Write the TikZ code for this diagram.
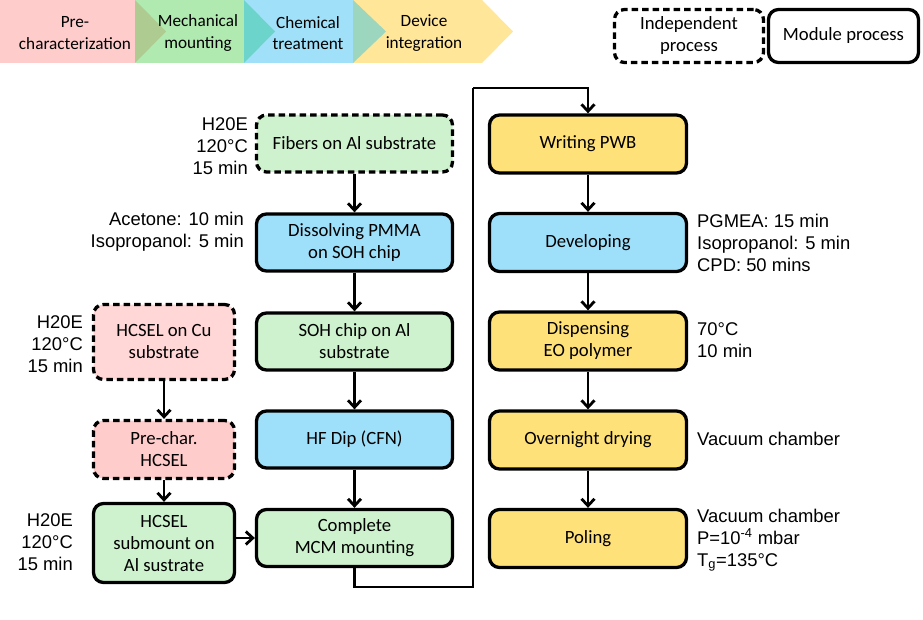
\documentclass[tikz,border=0pt]{standalone}
\usepackage{fontspec}
\setmainfont{Carlito}
\newfontfamily\boxfont{Carlito}
\newfontfamily\sidefont{Liberation Sans}
\usetikzlibrary{arrows.meta}
\definecolor{bpink}{HTML}{FFCCCC}
\definecolor{bgreen}{HTML}{B0EAB0}
\definecolor{bblue}{HTML}{A0E0F8}
\definecolor{byellow}{HTML}{FFE699}
\definecolor{ov1}{HTML}{AECB92}
\definecolor{ov2}{HTML}{6CD4CA}
\definecolor{ov3}{HTML}{9DD6BE}
\definecolor{fgreen}{HTML}{CDF2CD}
\definecolor{fblue}{HTML}{9EDFF9}
\definecolor{fyellow}{HTML}{FFE17A}
\definecolor{fpinkl}{HTML}{FFD7D7}
\definecolor{fpink}{HTML}{FFCCCC}
\tikzset{
  procbox/.style={draw=black, line width=3.3pt, rounded corners=10pt, align=center,
    font=\boxfont\fontsize{18.7}{22}\selectfont, inner sep=0pt},
  midbox/.style={procbox, minimum width=196pt, minimum height=57pt},
  rightbox/.style={procbox, minimum width=197pt, minimum height=58pt},
  leftbox/.style={procbox, minimum width=141pt},
  indep/.style={dash pattern=on 6.5pt off 4pt},
  sidetext/.style={font=\sidefont\fontsize{18.4}{22}\selectfont, inner sep=0pt},
  bantext/.style={font=\boxfont\fontsize{17.2}{21.5}\selectfont, align=center, inner sep=0pt},
  flow/.style={line width=2.8pt, -{Straight Barb[length=7pt,width=13pt,line width=2.8pt]}},
  link/.style={line width=2.4pt}
}
\begin{document}
\begin{tikzpicture}[x=1pt,y=-1pt]
\useasboundingbox (0,0) rectangle (923,620);
\fill[white] (0,0) rectangle (923,620);
% banner
\fill[bpink] (0,0) -- (135,0) -- (166,31.5) -- (135,63) -- (0,63) -- cycle;
\fill[bgreen] (135,0) -- (244,0) -- (275,31.5) -- (244,63) -- (135,63) -- cycle;
\fill[bblue] (244,0) -- (353,0) -- (386,31.5) -- (353,63) -- (244,63) -- cycle;
\fill[byellow] (353,0) -- (482,0) -- (513,31.5) -- (482,63) -- (353,63) -- cycle;
\fill[ov1] (135,0) -- (166,31.5) -- (135,63) -- cycle;
\fill[ov2] (244,0) -- (275,31.5) -- (244,63) -- cycle;
\fill[ov3] (353,0) -- (386,31.5) -- (353,63) -- cycle;
\node[bantext] (b1) at (75,33) {Pre-\\characterization};
\node[bantext] (b2) at (198,33) {Mechanical\\mounting};
\node[bantext] (b3) at (308,33) {Chemical\\treatment};
\node[bantext] (b4) at (424,33) {Device\\integration};
% legend
\node[procbox, indep, minimum width=149pt, minimum height=53pt] (lg1) at (689,36) {Independent\\process};
\node[procbox, minimum width=150pt, minimum height=53pt] (lg2) at (843.5,36) {Module process};
% middle column
\node[midbox, indep, fill=fgreen] (fib) at (354.5,143.5) {Fibers on Al substrate};
\node[midbox, fill=fblue] (dis) at (354.5,242.5) {Dissolving PMMA\\on SOH chip};
\node[midbox, fill=fgreen] (soh) at (354.5,341.5) {SOH chip on Al\\substrate};
\node[midbox, fill=fblue] (hf) at (354.5,439.5) {HF Dip (CFN)};
\node[midbox, fill=fgreen] (mcm) at (354.5,538) {Complete\\MCM mounting};
% left column
\node[leftbox, indep, fill=fpinkl, minimum height=75pt] (cu) at (164,342) {HCSEL on Cu\\substrate};
\node[leftbox, indep, fill=fpink, minimum height=58pt] (pre) at (164,449.5) {Pre-char.\\HCSEL};
\node[leftbox, fill=fgreen, minimum height=79pt] (sub) at (164,543) {HCSEL\\submount on\\Al sustrate};
% right column
\node[rightbox, fill=fyellow] (wr) at (588,144) {Writing PWB};
\node[rightbox, fill=fblue] (dev) at (588,242.5) {Developing};
\node[rightbox, fill=fyellow] (disp) at (588,341) {Dispensing\\EO polymer};
\node[rightbox, fill=fyellow] (ovn) at (588,440) {Overnight drying};
\node[rightbox, fill=fyellow] (pol) at (588,538.5) {Poling};
% side texts
\node[sidetext, anchor=east, align=right] (t1) at (248,146) {H20E\\120°C\\15 min};
\node[sidetext, anchor=east, align=right] (t2) at (244,231.5) {Acetone: 10 min\\Isopropanol: 5 min};
\node[sidetext, anchor=east, align=right] (t3) at (83,344) {H20E\\120°C\\15 min};
\node[sidetext, anchor=east, align=right] (t4) at (73,542) {H20E\\120°C\\15 min};
\node[sidetext, anchor=west, align=left] (t5) at (697,243) {PGMEA: 15 min\\Isopropanol: 5 min\\CPD: 50 mins};
\node[sidetext, anchor=west, align=left] (t6) at (697,340) {70°C\\10 min};
\node[sidetext, anchor=west, align=left] (t7) at (697,439) {Vacuum chamber};
\node[sidetext, anchor=west, align=left] (t8) at (697,540) {Vacuum chamber\\P=10\textsuperscript{-4} mbar\\T\textsubscript{g}=135°C};
% connectors
\draw[flow] (fib) -- (dis);
\draw[flow] (dis) -- (soh);
\draw[flow] (soh) -- (hf);
\draw[flow] (hf) -- (mcm);
\draw[flow] (cu) -- (pre);
\draw[flow] (pre) -- (sub);
\draw[flow] (sub.east |- mcm.west) -- (mcm.west);
\draw[flow] (wr) -- (dev);
\draw[flow] (dev) -- (disp);
\draw[flow] (disp) -- (ovn);
\draw[flow] (ovn) -- (pol);
\coordinate (c1) at (473,587);
\coordinate (c2) at (473,88);
\draw[link] (mcm.south) |- (c1) -- (c2);
\draw[flow] (c2) -| (wr.north);
\end{tikzpicture}
\end{document}
